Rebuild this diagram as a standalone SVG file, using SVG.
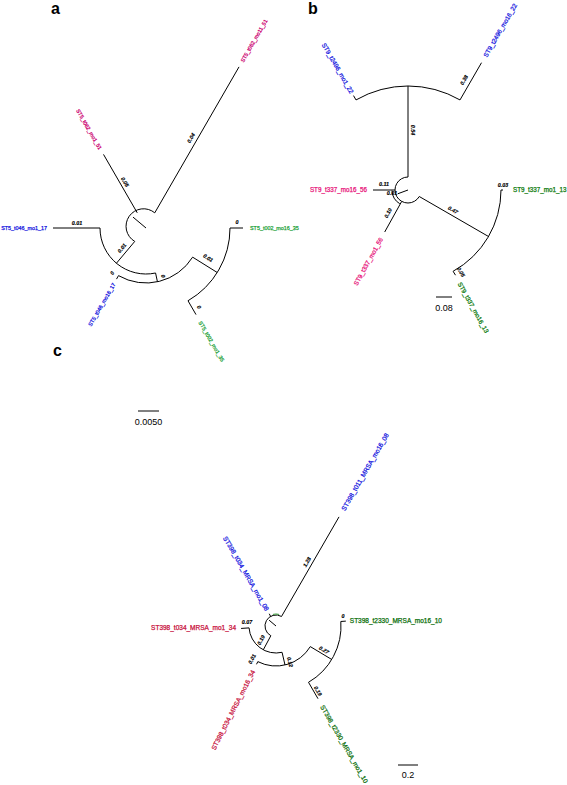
<svg xmlns="http://www.w3.org/2000/svg" width="567" height="785" viewBox="0 0 567 785">
<style>
.br{stroke:#000;stroke-width:1;fill:none}
.bl{font-family:"Liberation Sans",Arial,sans-serif;font-size:5.3px;font-weight:bold;font-style:italic;fill:#000;stroke:#000;stroke-width:0.15;text-anchor:middle}
.lfa{font-family:"Liberation Sans",Arial,sans-serif;font-size:5.4px;stroke-width:0.25}
.lfb{font-family:"Liberation Sans",Arial,sans-serif;font-size:6.3px;stroke-width:0.25}
.lfc{font-family:"Liberation Sans",Arial,sans-serif;font-size:6.5px;stroke-width:0.25}
.pl{font-family:"Liberation Sans",Arial,sans-serif;font-size:16px;font-weight:bold;fill:#000}
.sc{font-family:"Liberation Sans",Arial,sans-serif;font-size:9px;fill:#000;text-anchor:middle}
.mag{fill:#cc0070;stroke:#cc0070}.blu{fill:#1414e0;stroke:#1414e0}.gra{fill:#1fa33c;stroke:#1fa33c}.pnk{fill:#e8147a;stroke:#e8147a}.grb{fill:#0b7a0b;stroke:#0b7a0b}.red{fill:#c8103c;stroke:#c8103c}.grc{fill:#0a6e0a;stroke:#0a6e0a}
</style>
<rect width="567" height="785" fill="#fff"/>
<text class="pl" x="51" y="14">a</text>
<text class="pl" x="308" y="14">b</text>
<text class="pl" x="53" y="356">c</text>

<g id="connectors">
<!-- panel a -->
<path class="br" d="M154.75,212.84 A17.5,17.5 0 1 0 134.75,241.41"/>
<path class="br" d="M133,217.1 L146,228"/>
<path class="br" d="M154.75,212.84 L239,66.9"/>
<path class="br" d="M137.25,212.84 L103.5,154.4"/>
<path class="br" d="M134.75,241.41 L116.43,263.24"/>
<path class="br" d="M100,228 A46,46 0 0 0 155.57,273"/>
<path class="br" d="M100,228 L53,228"/>
<path class="br" d="M155.57,273 L157.44,281.8"/>
<path class="br" d="M118.5,275.63 A55,55 0 0 0 192.64,257.15"/>
<path class="br" d="M118.5,275.63 L116.5,279.1"/>
<path class="br" d="M192.64,257.15 L217.23,272.51"/>
<path class="br" d="M230,228 A84,84 0 0 1 188,300.75"/>
<path class="br" d="M230,228 L243,228"/>
<path class="br" d="M188,300.75 L196,314.6"/>
<!-- panel b -->
<path class="br" d="M408,177 A13,13 0 1 0 419.26,196.5"/>
<path class="br" d="M392.01,190.56 A16,16 0 0 0 399.76,203.71"/>
<path class="br" d="M397.7,193.8 L408,190"/>
<path class="br" d="M408,177 L408,86"/>
<path class="br" d="M460,99.93 A104,104 0 0 0 356,99.93"/>
<path class="br" d="M460,99.93 L481.5,62.7"/>
<path class="br" d="M356,99.93 L353.5,95.6" stroke-width="2"/>
<path class="br" d="M395,190 L373,190"/>
<path class="br" d="M401.7,201.4 L384.7,232"/>
<path class="br" d="M419.26,196.5 L488.5,236.5"/>
<path class="br" d="M501,190 A93,93 0 0 1 453.1,271.3"/>
<path class="br" d="M501,190 L503,190"/>
<path class="br" d="M453.1,271.3 L455.5,275.2"/>
<!-- panel c -->
<path class="br" d="M281.5,616.47 A11,11 0 1 0 270.84,635.71"/>
<path d="M272.89,614.41 A12,12 0 0 1 279.11,614.41" fill="none" stroke="#3a9a3a" stroke-width="1"/>
<path class="br" d="M269.1,620.2 L276,626"/>
<path class="br" d="M281.5,616.47 L339,516.9"/>
<path class="br" d="M270.67,616.38 L269.21,613.76"/>
<path class="br" d="M270.84,635.71 L263.3,649.8"/>
<path class="br" d="M249.07,627.88 A27,27 0 0 0 282.07,652.31"/>
<path class="br" d="M249.07,627.88 L241.09,628.44"/>
<path class="br" d="M282.07,652.31 L285,665"/>
<path class="br" d="M257.84,661.64 A40,40 0 0 0 310.29,646.6"/>
<path class="br" d="M257.84,661.64 L256.5,664.3"/>
<path class="br" d="M310.29,646.6 L331.72,659.48"/>
<path class="br" d="M340.84,621.47 A65,65 0 0 1 308.5,682.29"/>
<path class="br" d="M340.84,621.47 L345.83,621.12"/>
<path class="br" d="M308.5,682.29 L318,698.7"/>
<!-- scale bars -->
<path class="br" d="M138,411 L159,411"/>
<path class="br" d="M436,297 L452,297"/>
<path class="br" d="M398,765 L418,765"/>
</g>

<g id="branch-labels">
<text class="bl" transform="translate(191,138) rotate(-60)" dy=".35em">0.04</text>
<text class="bl" transform="translate(125,182) rotate(60)" dy=".35em">0.05</text>
<text class="bl" transform="translate(122,248) rotate(-50)" dy=".35em">0.01</text>
<text class="bl" transform="translate(77,223)" dy=".35em">0.01</text>
<text class="bl" transform="translate(112,273) rotate(-60)" dy=".35em">0</text>
<text class="bl" transform="translate(163,276) rotate(78)" dy=".35em">0</text>
<text class="bl" transform="translate(208,258) rotate(32)" dy=".35em">0.01</text>
<text class="bl" transform="translate(237,222)" dy=".35em">0</text>
<text class="bl" transform="translate(199,307) rotate(60)" dy=".35em">0</text>

<text class="bl" transform="translate(413,130) rotate(90)" dy=".35em">0.54</text>
<text class="bl" transform="translate(464,80) rotate(-60)" dy=".35em">0.38</text>
<text class="bl" transform="translate(384,184)" dy=".35em">0.11</text>
<text class="bl" transform="translate(392,193.5)" dy=".35em">0.01</text>
<text class="bl" transform="translate(388,213) rotate(-61)" dy=".35em">0.10</text>
<text class="bl" transform="translate(453,210) rotate(30)" dy=".35em">0.47</text>
<text class="bl" transform="translate(503,185)" dy=".35em">0.03</text>
<text class="bl" transform="translate(461,272) rotate(61)" dy=".35em">0.05</text>

<text class="bl" transform="translate(307,562) rotate(-60)" dy=".35em">1.28</text>
<text class="bl" transform="translate(247,622)" dy=".35em">0.07</text>
<text class="bl" transform="translate(261,640) rotate(-62)" dy=".35em">0.19</text>
<text class="bl" transform="translate(252,659) rotate(-63)" dy=".35em">0.01</text>
<text class="bl" transform="translate(290,662) rotate(77)" dy=".35em">0.12</text>
<text class="bl" transform="translate(324,650) rotate(31)" dy=".35em">0.27</text>
<text class="bl" transform="translate(343,616)" dy=".35em">0</text>
<text class="bl" transform="translate(318,691) rotate(60)" dy=".35em">0.19</text>
</g>

<g id="scale-a"><text class="sc" x="148.5" y="425">0.0050</text></g>
<g id="scale-b"><text class="sc" x="444" y="311">0.08</text></g>
<g id="scale-c"><text class="sc" x="408" y="778">0.2</text></g>

<g id="a-t062-mo11-51"><text class="lfa mag" transform="translate(242,61.7) rotate(-60)" dy=".35em">ST5_t062_mo11_51</text></g>
<g id="a-t062-mo1-51"><text class="lfa mag" text-anchor="end" transform="translate(100.5,149.2) rotate(60)" dy=".35em">ST5_t062_mo1_51</text></g>
<g id="a-t046-mo1-17"><text class="lfa blu" text-anchor="end" transform="translate(47,228)" dy=".35em">ST5_t046_mo1_17</text></g>
<g id="a-t046-mo16-17"><text class="lfa blu" text-anchor="end" transform="translate(114,283.4) rotate(-60)" dy=".35em">ST5_t046_mo16_17</text></g>
<g id="a-t002-mo16-35"><text class="lfa gra" transform="translate(250,228)" dy=".35em">ST5_t002_mo16_35</text></g>
<g id="a-t002-mo1-35"><text class="lfa gra" transform="translate(200,321.5) rotate(60)" dy=".35em">ST5_t002_mo1_35</text></g>

<g id="b-t2496-mo1-22"><text class="lfb blu" text-anchor="end" transform="translate(352,93) rotate(60)" dy=".35em">ST9_t2496_mo1_22</text></g>
<g id="b-t2496-mo16-22"><text class="lfb blu" transform="translate(485,56.6) rotate(-60)" dy=".35em">ST9_t2496_mo16_22</text></g>
<g id="b-t337-mo16-56"><text class="lfb pnk" text-anchor="end" transform="translate(367,190)" dy=".35em">ST9_t337_mo16_56</text></g>
<g id="b-t337-mo1-56"><text class="lfb pnk" text-anchor="end" transform="translate(381.3,238.1) rotate(-61)" dy=".35em">ST9_t337_mo1_56</text></g>
<g id="b-t337-mo1-13"><text class="lfb grb" transform="translate(513,190)" dy=".35em">ST9_t337_mo1_13</text></g>
<g id="b-t337-mo16-13"><text class="lfb grb" transform="translate(459.4,282.7) rotate(61)" dy=".35em">ST9_t337_mo16_13</text></g>

<g id="c-t011-mo16-08"><text class="lfc blu" transform="translate(343,510) rotate(-60)" dy=".35em">ST398_t011_MRSA_mo16_08</text></g>
<g id="c-t034-mo1-08"><text class="lfc blu" text-anchor="end" transform="translate(267.3,610.3) rotate(60)" dy=".35em">ST398_t034_MRSA_mo1_08</text></g>
<g id="c-t034-mo1-34"><text class="lfc red" text-anchor="end" transform="translate(236,628)" dy=".35em">ST398_t034_MRSA_mo1_34</text></g>
<g id="c-t034-mo16-34"><text class="lfc red" text-anchor="end" transform="translate(253.3,670.5) rotate(-63)" dy=".35em">ST398_t034_MRSA_mo16_34</text></g>
<g id="c-t2330-mo16-10"><text class="lfc grc" transform="translate(349.8,621)" dy=".35em">ST398_t2330_MRSA_mo16_10</text></g>
<g id="c-t2330-mo1-10"><text class="lfc grc" transform="translate(322,705.7) rotate(60)" dy=".35em">ST398_t2330_MRSA_mo1_10</text></g>
</svg>
